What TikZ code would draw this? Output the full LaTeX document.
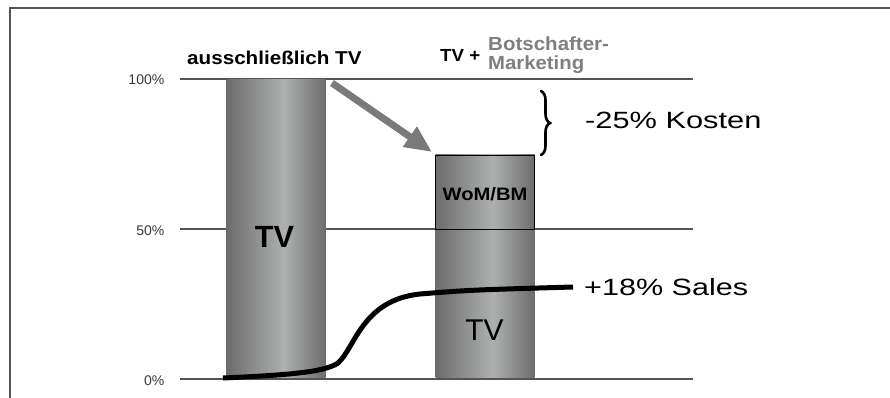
\documentclass[tikz,border=0pt]{standalone}
\usepackage{fontspec}
\setmainfont{Liberation Sans}
\usetikzlibrary{arrows.meta,decorations.pathreplacing}
\definecolor{bardark}{HTML}{6C6C6C}
\definecolor{barlight}{HTML}{AEB0B0}
\definecolor{arrgray}{HTML}{7A7A7A}
\definecolor{subgray}{HTML}{7F7F7F}
\definecolor{framegray}{HTML}{555555}
\definecolor{labgray}{HTML}{3A3A3A}
\pgfdeclarehorizontalshading{barshade}{100bp}{color(0bp)=(bardark); color(25bp)=(bardark); color(54bp)=(barlight); color(75bp)=(bardark); color(100bp)=(bardark)}
\newcommand{\fsz}[1]{\fontsize{#1}{#1}\selectfont}
\begin{document}
\begin{tikzpicture}[x=1pt,y=-1pt,
  bar/.style={shading=barshade, inner sep=0pt, outer sep=0pt, anchor=north west},
  gridline/.style={draw=framegray, line width=1.2pt},
  pct/.style={anchor=base east, text=labgray, inner sep=0pt, font=\fsz{14}},
  lbl/.style={inner sep=0pt}
]
\useasboundingbox (0,0) rectangle (890,398);
% frame
\draw[framegray, line width=2pt] (9.5,398) -- (9.5,8.5) -- (890,8.5);
% grid lines
\coordinate (g100a) at (180,79); \coordinate (g100b) at (693,79);
\coordinate (g50a) at (180,229); \coordinate (g50b) at (693,229);
\coordinate (g0a) at (180,379); \coordinate (g0b) at (693,379);
\draw[gridline] (g100a) -- (g100b);
\draw[gridline] (g50a) -- (g50b);
\draw[gridline] (g0a) -- (g0b);
\node[pct] (p100) at (164.5,85) {100\%};
\node[pct] (p50) at (164.5,235) {50\%};
\node[pct] (p0) at (164.5,385) {0\%};
% bars
\node[bar, minimum width=99pt, minimum height=297pt] (b1) at (226.5,80) {};
\node[bar, minimum width=99pt, minimum height=148pt] (b2) at (435.5,229) {};
\node[bar, minimum width=99pt, minimum height=74pt, draw=black, line width=0.9pt] (wom) at (435.5,155) {};
% bar texts
\node[lbl, anchor=base] (tv1) at (274.5,247) {\fsz{30.7}\bfseries TV};
\node[lbl, anchor=base] (tv2) at (484.5,340) {\fsz{30}TV};
\node[lbl, anchor=base] (womt) at (485,200) {\scalebox{1.12}[1]{\fsz{18}\bfseries WoM/BM}};
% headings
\node[lbl, anchor=base west] (h1) at (187,65) {\scalebox{1.11}[1]{\fsz{18.6}\bfseries ausschließlich TV}};
\node[lbl, anchor=base west] (h2) at (440,62) {\scalebox{1.07}[1]{\fsz{17.5}\bfseries TV +}};
\node[lbl, anchor=base west, text=subgray] (h3) at (488,51) {\scalebox{1.08}[1]{\fsz{19}\bfseries Botschafter-}};
\node[lbl, anchor=base west, text=subgray] (h4) at (488,69.5) {\scalebox{1.07}[1]{\fsz{19}\bfseries Marketing}};
% arrow
\coordinate (as) at (332,83);
\coordinate (ae) at (432,152);
\draw[arrgray, line width=7pt, -{Triangle[length=27pt,width=23pt]}] (as) -- (ae);
% brace
\coordinate (bt) at (541,91);
\coordinate (bb) at (541,155);
\draw[black, line width=2.6pt, line cap=round, decorate, decoration={brace, amplitude=9pt}] (bt) -- (bb);
\node[lbl, anchor=base west] (kost) at (585,128.5) {\scalebox{1.31}[1]{\fsz{23.5}-25\% Kosten}};
% sales curve
\coordinate (c0) at (223,378);
\coordinate (c1) at (338,363);
\coordinate (c2) at (420,294);
\coordinate (c3) at (573,287);
\draw[black, line width=5pt] (c0) .. controls (290,375) and (325,372) .. (c1)
  .. controls (355,348) and (362,300) .. (c2)
  .. controls (470,290) .. (c3);
\node[lbl, anchor=base west] (sales) at (584,295.5) {\scalebox{1.30}[1]{\fsz{23.5}+18\% Sales}};
\end{tikzpicture}
\end{document}
